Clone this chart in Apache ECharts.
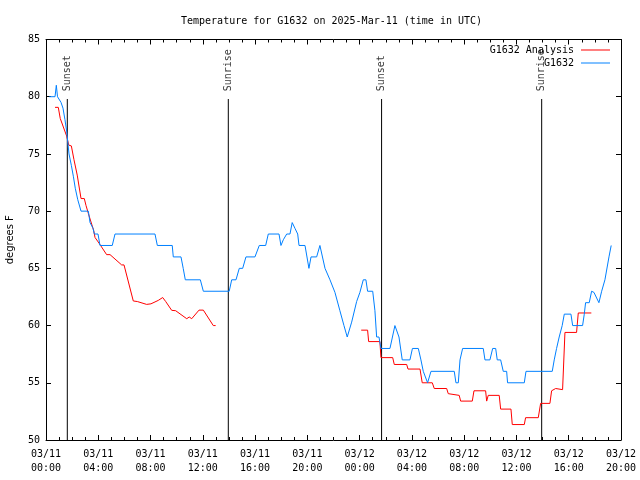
<!DOCTYPE html>
<html><head><meta charset="utf-8">
<script src="https://cdn.jsdelivr.net/npm/echarts@6/dist/echarts.min.js"></script>
<style>html,body{margin:0;padding:0;background:#fff}#c{width:640px;height:480px}</style>
</head><body><div id="c"></div>
<script>
const MONO = 'DejaVu Sans Mono';
const titleText = 'Temperature for G1632 on 2025-Mar-11 (time in UTC)';
const yAxisName = 'degrees F';
const xTickLabels = ['03/11\n00:00','03/11\n04:00','03/11\n08:00','03/11\n12:00','03/11\n16:00','03/11\n20:00',
  '03/12\n00:00','03/12\n04:00','03/12\n08:00','03/12\n12:00','03/12\n16:00','03/12\n20:00'];
const seriesNames = ['G1632 Analysis', 'G1632'];

// hours since 03/11 00:00 UTC
const obsHours = [0.25,0.69,0.79,0.88,1.02,1.15,1.30,1.45,1.58,1.76,1.94,2.10,2.24,2.43,2.68,3.24,3.37,3.60,3.70,3.98,
  4.13,5.07,5.28,8.34,8.52,9.66,9.74,10.33,10.50,10.66,11.81,12.04,14.02,14.21,14.54,14.79,15.05,15.30,15.99,16.32,
  16.81,17.01,17.83,17.98,18.16,18.42,18.67,18.84,19.05,19.26,19.36,19.82,20.12,20.28,20.71,20.96,21.35,21.73,22.11,22.49,
  22.80,23.05,23.39,23.77,24.02,24.28,24.48,24.61,25.00,25.17,25.30,25.48,25.63,26.32,26.70,27.01,27.26,27.85,28.04,28.49,
  28.69,28.87,29.20,29.33,29.46,31.24,31.37,31.55,31.68,31.88,33.46,33.59,33.97,34.18,34.41,34.53,34.79,34.99,35.25,35.32,
  36.60,36.73,38.74,38.89,39.07,39.27,39.50,39.66,40.17,40.30,41.06,41.19,41.29,41.57,41.75,41.93,42.31,42.52,42.77,43.08,43.25];
const obsTemps = [80,80,81,80,80,79.5,79,78,77,75,74,73,72,71,70,70,69,68.5,68,68,
  67,67,68,68,67,67,66,66,65,64,64,63,63,64,64,65,65,66,66,67,
  67,68,68,67,67.5,68,68,69,68.5,68,67,67,65,66,66,67,65,64,62.9,61.3,
  60,59,60.3,62.1,62.9,64,64,63,63,61.3,59,59,58,58,60,59,57,57,58,58,
  57,56,55,55,56,56,55,55,57,58,58,57,57,58,58,57,57,56,56,55,
  55,56,56,57,58,59,60,61,61,60,60,61,62,62,63,62.9,62,63,64,66,67];

const anaHours = [0.69,0.94,1.09,1.58,1.74,1.94,2.14,2.39,2.68,2.93,3.06,3.24,3.65,3.75,4.06,4.64,4.90,5.79,5.97,6.68,
  6.99,7.70,8.03,8.59,8.93,9.16,9.62,9.92,10.77,10.96,11.15,11.71,12.04,12.80,12.98,18.0,
  24.12,24.61,24.69,25.55,25.63,26.53,26.65,27.60,27.70,28.62,28.79,29.56,29.71,30.66,30.78,30.91,31.62,31.73,32.62,32.75,
  33.64,33.72,33.84,34.68,34.79,35.58,35.68,36.60,36.70,37.67,37.85,38.56,38.69,39.00,39.12,39.53,39.71,40.60,40.73,41.73];
const anaTemps = [79.07,79.07,78.1,76.56,75.77,75.7,74.5,73.15,71.1,71.1,70.5,69.8,68.3,67.7,67.2,66.2,66.2,65.3,65.3,62.15,
  62.1,61.85,61.9,62.2,62.45,62.1,61.33,61.3,60.6,60.75,60.6,61.35,61.35,60.0,60.0,null,
  59.6,59.6,58.6,58.6,57.2,57.2,56.6,56.6,56.2,56.2,55.0,55.0,54.5,54.5,54.05,53.9,53.9,53.4,53.4,54.3,
  54.3,53.4,53.9,53.9,52.7,52.7,51.35,51.35,51.95,51.95,53.2,53.2,54.3,54.5,54.4,54.4,59.4,59.4,61.1,61.1];

const eventHours = [1.63, 13.95, 25.68, 37.93];
const eventNames = ['Sunset', 'Sunrise', 'Sunset', 'Sunrise'];
const eventLineBottom = 50, eventLineTop = 79.8, eventLabelAt = 80.3;

const anaData = anaHours.map((h, i) => [h, anaTemps[i] === null ? '-' : anaTemps[i]]);
const obsData = obsHours.map((h, i) => [h, obsTemps[i]]);
const evLineData = [];
eventHours.forEach(h => { evLineData.push([h, eventLineBottom], [h, eventLineTop], [h, '-']); });
const evLabelData = eventHours.map((h, i) => ({ value: [h, eventLabelAt], name: eventNames[i] }));

const mkAxisLine = () => ({ show: true, onZero: false, lineStyle: { color: '#000', width: 1 } });
const mkXAxis = (pos, labels) => ({
  type: 'value', min: 0, max: 44, interval: 4, position: pos,
  axisLine: mkAxisLine(), splitLine: { show: false },
  axisTick: { show: true, inside: true, length: 5, lineStyle: { color: '#000' } },
  minorTick: { show: true, splitNumber: 4, length: 3, lineStyle: { color: '#000' } },
  minorSplitLine: { show: false },
  axisLabel: labels ? { show: true, margin: 7, color: '#000', fontFamily: MONO, fontSize: 10, lineHeight: 14,
    formatter: v => xTickLabels[Math.round(v / 4)] } : { show: false }
});
const mkYAxis = (pos, labels) => ({
  type: 'value', min: 50, max: 85, interval: 5, position: pos,
  axisLine: mkAxisLine(), splitLine: { show: false },
  axisTick: { show: true, inside: true, length: 5, lineStyle: { color: '#000' } },
  axisLabel: labels ? { show: true, inside: false, margin: 6, color: '#000', fontFamily: MONO, fontSize: 10 } : { show: false }
});

const chart = echarts.init(document.getElementById('c'), null, { renderer: 'canvas' });
const legendCommon = {
  right: 30, orient: 'horizontal', align: 'right', icon: 'rect', itemWidth: 29, itemHeight: 1,
  padding: 0, textStyle: { fontFamily: MONO, fontSize: 10, color: '#000', padding: [0, 2, 0, 0] }, selectedMode: false
};
const yLeft = mkYAxis('left', true);
Object.assign(yLeft, { name: yAxisName, nameLocation: 'middle', nameGap: 31, nameRotate: 90,
  nameTextStyle: { fontFamily: 'DejaVu Sans', fontSize: 10, color: '#000' } });

chart.setOption({
  animation: false,
  backgroundColor: '#fff',
  title: { text: titleText, left: 181, top: 16, padding: 0,
    textStyle: { fontFamily: MONO, fontSize: 10, fontWeight: 'normal', color: '#000' } },
  legend: [
    Object.assign({}, legendCommon, { data: [seriesNames[0]], top: 45 }),
    Object.assign({}, legendCommon, { data: [seriesNames[1]], top: 58 })
  ],
  grid: { left: 46, right: 19, top: 39.5, bottom: 40, containLabel: false, outerBoundsMode: 'none' },
  xAxis: [ mkXAxis('bottom', true), mkXAxis('top', false) ],
  yAxis: [ yLeft, mkYAxis('right', false) ],
  series: [
    { name: 'events', type: 'line', data: evLineData, showSymbol: false, symbol: 'none', silent: true,
      lineStyle: { color: '#000', width: 1 }, z: 1 },
    { name: 'eventLabels', type: 'scatter', data: evLabelData, symbolSize: 0, silent: true,
      label: { show: true, formatter: p => p.name, rotate: 90, position: 'inside', align: 'left', verticalAlign: 'middle',
        offset: [2, 0], fontFamily: MONO, fontSize: 10, color: '#000' }, z: 1 },
    { name: seriesNames[0], type: 'line', data: anaData, showSymbol: false, symbol: 'none', connectNulls: false,
      color: '#ff0000', lineStyle: { color: '#ff0000', width: 1 }, itemStyle: { color: '#ff0000' }, z: 2 },
    { name: seriesNames[1], type: 'line', data: obsData, showSymbol: false, symbol: 'none',
      color: '#0080ff', lineStyle: { color: '#0080ff', width: 1 }, itemStyle: { color: '#0080ff' }, z: 3 }
  ]
});
</script></body></html>
